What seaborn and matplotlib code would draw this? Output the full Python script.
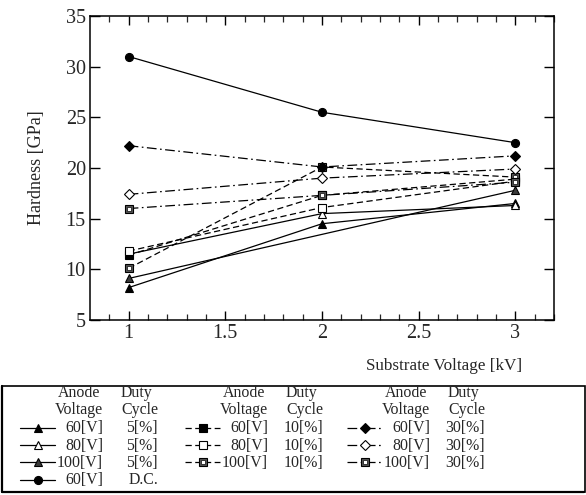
import numpy as np
import pandas as pd
import matplotlib
matplotlib.use("Agg")
import matplotlib.pyplot as plt
from matplotlib.patches import Rectangle
from matplotlib.lines import Line2D
import seaborn as sns

# Substrate voltage [kV] and measured hardness [GPa] per anode voltage / duty cycle
substrate_kv = [1, 2, 3]
hardness_60v_5 = [8.2, 14.5, 16.5]
hardness_80v_5 = [11.5, 15.5, 16.3]
hardness_100v_5 = [9.1, np.nan, 17.8]
hardness_60v_dc = [31.0, 25.5, 22.5]
hardness_60v_10 = [11.4, 17.3, 18.9]
hardness_80v_10 = [11.8, 16.1, 18.7]
hardness_100v_10 = [10.1, 20.1, 19.1]
hardness_60v_30 = [22.2, 20.1, 21.2]
hardness_80v_30 = [17.4, 19.0, 19.9]
hardness_100v_30 = [16.0, 17.3, 18.6]

anode_labels = ["60[V]", "80[V]", "100[V]", "60[V]",
                "60[V]", "80[V]", "100[V]",
                "60[V]", "80[V]", "100[V]"]
duty_labels = ["5[%]", "5[%]", "5[%]", "D.C.",
               "10[%]", "10[%]", "10[%]",
               "30[%]", "30[%]", "30[%]"]
y_ticks = [5, 10, 15, 20, 25, 30, 35]
x_ticks = [1, 1.5, 2, 2.5, 3]
x_tick_labels = ["1", "1.5", "2", "2.5", "3"]

sns.set_style("ticks")
plt.rcParams["font.family"] = ["Liberation Serif", "DejaVu Serif"]
plt.rcParams["lines.scale_dashes"] = False

SOLID = "-"
DASH = (0, (4.5, 2.5))
DASHDOT = (0, (7, 2.5, 1.2, 2.5))

# marker style: (values, line style, marker, face colour, size, dotted inner)
series = [
    (hardness_60v_5, SOLID, "^", "black", 6.0, False),
    (hardness_80v_5, SOLID, "^", "white", 6.0, False),
    (hardness_100v_5, SOLID, "^", "#3a3a3a", 6.0, False),
    (hardness_60v_dc, SOLID, "o", "black", 5.8, False),
    (hardness_60v_10, DASH, "s", "black", 5.4, False),
    (hardness_80v_10, DASH, "s", "white", 5.4, False),
    (hardness_100v_10, DASH, "s", "#555555", 5.4, True),
    (hardness_60v_30, DASHDOT, "D", "black", 5.2, False),
    (hardness_80v_30, DASHDOT, "D", "white", 5.2, False),
    (hardness_100v_30, DASHDOT, "s", "#555555", 5.4, True),
]
# drawing order: 5%, 10%, 30%, then D.C.
draw_order = [0, 1, 2, 4, 5, 6, 7, 8, 9, 3]

W, H = 586, 495
fig = plt.figure(figsize=(W / 100, H / 100), dpi=100)
ax = fig.add_axes([90 / W, 1 - 320 / H, 464 / W, 304 / H])

for k, idx in enumerate(draw_order):
    vals, ls, mk, fc, ms, dotted = series[idx]
    df = pd.DataFrame({"kv": substrate_kv, "gpa": vals}).dropna()
    z = 3 + k * 0.1
    sns.lineplot(data=df, x="kv", y="gpa", ax=ax, color="black",
                 linestyle=ls, linewidth=0.9, marker=mk, markersize=ms,
                 markerfacecolor=fc, markeredgecolor="black",
                 markeredgewidth=0.8, zorder=z)
    if dotted:
        sns.scatterplot(data=df, x="kv", y="gpa", ax=ax, marker="s", s=6,
                        color="white", edgecolor="#222222", linewidth=0.6,
                        zorder=z + 0.05)

ax.set_xlim(0.8, 3.2)
ax.set_ylim(5, 35)
ax.set_xticks(x_ticks)
ax.set_xticklabels(x_tick_labels)
ax.set_xticks(np.arange(0.9, 3.21, 0.1), minor=True)
ax.set_yticks(y_ticks)
ax.tick_params(axis="both", which="major", direction="in", labelsize=14.5,
               width=1.0, color="black")
ax.tick_params(axis="x", which="major", length=6.5, top=True, pad=3)
ax.tick_params(axis="x", which="minor", direction="in", length=4,
               width=0.9, top=True)
ax.tick_params(axis="y", which="major", length=7.5, right=True, pad=3)
for sp in ax.spines.values():
    sp.set_visible(True)
    sp.set_linewidth(1.1)
    sp.set_color("black")

ax.set_xlabel("Substrate Voltage [kV]", fontsize=12.3, ha="right")
ax.xaxis.set_label_coords((522 - 90) / 464, (320 - 366) / 304)
ax.xaxis.label.set_va("center")
ax.set_ylabel("Hardness [GPa]", fontsize=13)
ax.yaxis.set_label_coords((36 - 90) / 464, 0.5)
ax.yaxis.label.set_va("center")

# Legend panel laid out in pixel coordinates
lax = fig.add_axes([0, 0, 1, 1])
lax.set_xlim(0, W)
lax.set_ylim(H, 0)
lax.axis("off")
lax.patch.set_visible(False)
lax.add_patch(Rectangle((1.5, 385.5), 583, 106.5, fill=False,
                        edgecolor="black", linewidth=1.2))
lax.add_line(Line2D([2, 2, 584], [386, 492, 492], color="black",
                    linewidth=1.6))

col_x = [20, 185, 347]
row_line_y = [427.7, 445, 462.3, 479.8]
row_base_y = [432.3, 449.6, 467.0, 484.5]
columns = [[0, 1, 2, 3], [4, 5, 6], [7, 8, 9]]
fs = 11.4
for c, members in enumerate(columns):
    x0 = col_x[c]
    lax.text(x0 + 59, 396.7, "Anode", ha="center", va="baseline", fontsize=fs)
    lax.text(x0 + 59, 413.5, "Voltage", ha="center", va="baseline", fontsize=fs)
    lax.text(x0 + 101, 396.7, "Duty", ha="left", va="baseline", fontsize=fs)
    lax.text(x0 + 101, 413.5, "Cycle", ha="left", va="baseline", fontsize=fs)
    for r, idx in enumerate(members):
        vals, ls, mk, fc, ms, dotted = series[idx]
        y = row_line_y[r]
        lax.add_line(Line2D([x0, x0 + 35], [y, y], color="black",
                            linestyle=ls, linewidth=0.9))
        lax.add_line(Line2D([x0 + 18], [y], marker=mk, markersize=ms,
                            markerfacecolor=fc, markeredgecolor="black",
                            markeredgewidth=0.8, linestyle="none"))
        if dotted:
            lax.add_line(Line2D([x0 + 18], [y], marker="s", markersize=2.4,
                                markerfacecolor="white",
                                markeredgecolor="#222222",
                                markeredgewidth=0.6, linestyle="none"))
        lax.text(x0 + 83, row_base_y[r], anode_labels[idx], ha="right",
                 va="baseline", fontsize=fs)
        lax.text(x0 + 138, row_base_y[r], duty_labels[idx], ha="right",
                 va="baseline", fontsize=fs)

fig.savefig("out.png", dpi=100, facecolor="white")
